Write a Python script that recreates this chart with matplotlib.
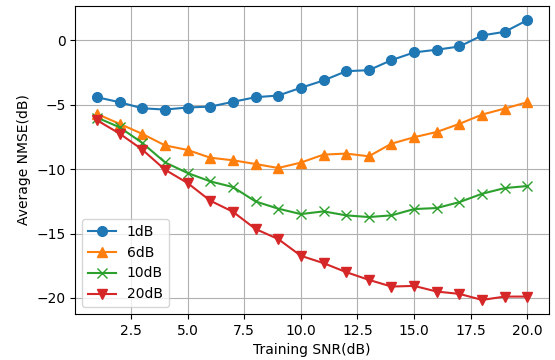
import numpy as np
import matplotlib.pyplot as plt

snr = np.arange(1, 21)

# average NMSE (dB) for each test SNR
nmse_1db = [-4.41, -4.80, -5.27, -5.37, -5.21, -5.14, -4.77, -4.41, -4.28, -3.68,
            -3.11, -2.39, -2.31, -1.53, -0.93, -0.72, -0.47, 0.39, 0.67, 1.58]
nmse_6db = [-5.71, -6.48, -7.26, -8.15, -8.51, -9.11, -9.31, -9.60, -9.91, -9.49,
            -8.87, -8.79, -9.00, -8.02, -7.52, -7.11, -6.48, -5.76, -5.29, -4.80]
nmse_10db = [-5.99, -6.75, -7.96, -9.47, -10.30, -10.95, -11.39, -12.51, -13.07, -13.49,
             -13.28, -13.59, -13.72, -13.59, -13.10, -13.02, -12.56, -11.91, -11.47, -11.31]
nmse_20db = [-6.20, -7.24, -8.48, -10.04, -11.08, -12.45, -13.31, -14.65, -15.43, -16.73,
             -17.30, -18.00, -18.60, -19.12, -19.07, -19.51, -19.69, -20.16, -19.90, -19.90]

fig = plt.figure(figsize=(5.55, 3.6), dpi=100)
ax = fig.add_axes([0.136, 0.128, 0.853, 0.855])

ax.plot(snr, nmse_1db, marker='o', ms=7, label='1dB')
ax.plot(snr, nmse_6db, marker='^', ms=7, label='6dB')
ax.plot(snr, nmse_10db, marker='x', ms=7, label='10dB')
ax.plot(snr, nmse_20db, marker='v', ms=7, label='20dB')

ax.set_xlabel('Training SNR(dB)')
ax.set_ylabel('Average NMSE(dB)')
ax.grid(True)
ax.legend(loc='lower left')

fig.savefig('out.png', dpi=100)
